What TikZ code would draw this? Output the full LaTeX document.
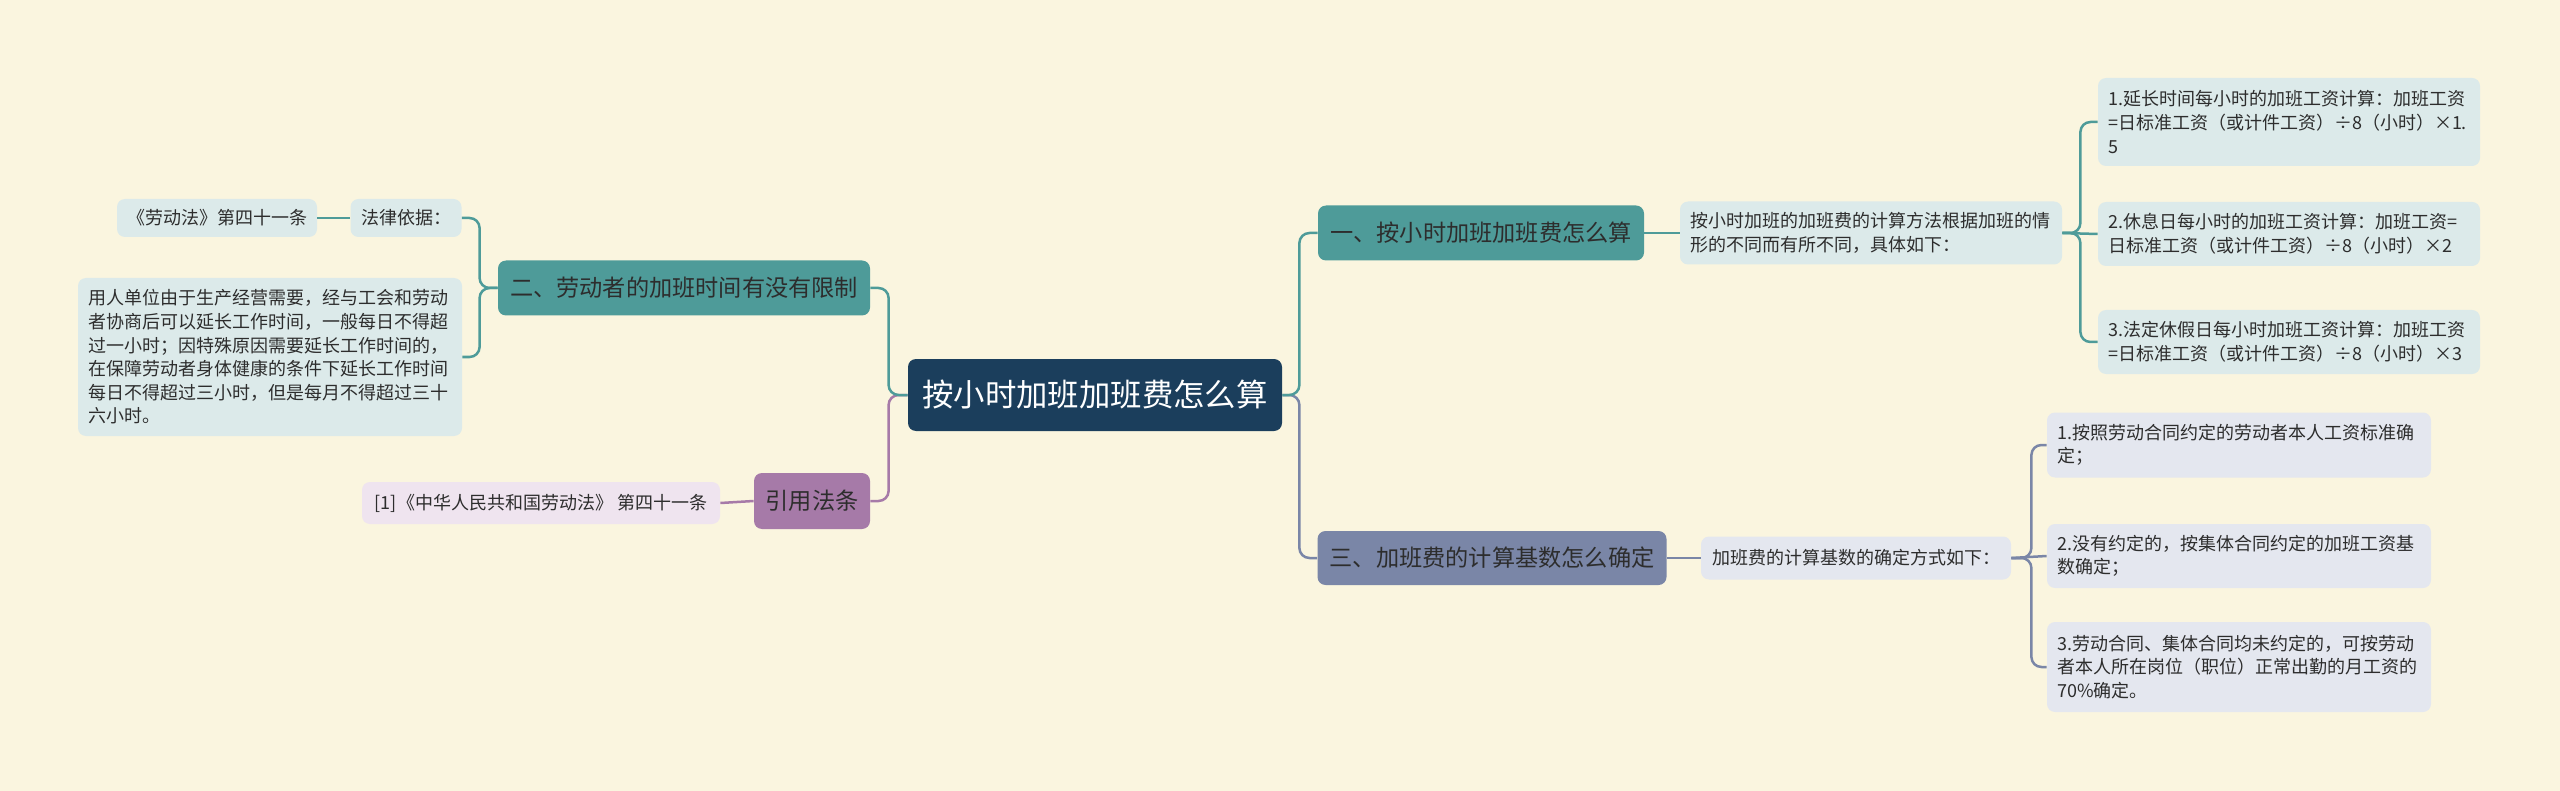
\documentclass[tikz,border=0pt]{standalone}
\usepackage{fontspec}
\setmainfont{Noto Sans CJK SC}
\usetikzlibrary{positioning}
\definecolor{paper}{RGB}{250,245,223}
\definecolor{rootblue}{RGB}{27,62,92}
\definecolor{mapteal}{RGB}{78,155,153}
\definecolor{tealsoft}{RGB}{220,234,234}
\definecolor{mappurple}{RGB}{166,122,168}
\definecolor{purplesoft}{RGB}{239,228,239}
\definecolor{mapslate}{RGB}{122,134,167}
\definecolor{slatesoft}{RGB}{228,231,239}
\definecolor{ink}{RGB}{45,45,45}

\begin{document}
\begin{tikzpicture}[x=0.5pt,y=-0.5pt,
  box/.style={rounded corners=4pt,inner xsep=5pt,inner ysep=0pt,text=ink},
  note/.style={box,align=left,font=\fontsize{9}{11.8}\selectfont},
  tag/.style={box,align=center,font=\fontsize{9}{11.8}\selectfont},
  topic/.style={box,align=center,font=\fontsize{11.6}{14}\selectfont,minimum height=27.5pt},
  link/.style={line width=1.25pt,rounded corners=5pt}]
\fill[paper] (0,0) rectangle (2560,791);
\useasboundingbox (0,0) rectangle (2560,791);

% centre
\node[box,fill=rootblue,text=white,align=center,font=\fontsize{15.7}{18}\selectfont,minimum width=187pt,minimum height=36pt] (root) at (1095,395) {按小时加班加班费怎么算};

% main topics
\node[topic,fill=mapteal,minimum width=163pt] (hour) at (1481,233) {一、按小时加班加班费怎么算};
\node[topic,fill=mapteal,minimum width=186pt] (limit) at (684,288) {二、劳动者的加班时间有没有限制};
\node[topic,fill=mapslate,minimum width=174.5pt,minimum height=27pt] (base) at (1492,558) {三、加班费的计算基数怎么确定};
\node[topic,fill=mappurple,minimum width=58pt,minimum height=28pt] (cite) at (812,501) {引用法条};

% left notes
\node[tag,fill=tealsoft,minimum width=55.5pt,minimum height=19pt] (law) at (406,218) {法律依据：};
\node[tag,fill=tealsoft,minimum width=99.5pt,minimum height=19pt] (article) at (217,218) {《劳动法》第四十一条};
\node[note,fill=tealsoft,text width=182pt,minimum height=79pt] (lawtext) at (270,357) {用人单位由于生产经营需要，经与工会和劳动\\者协商后可以延长工作时间，一般每日不得超\\过一小时；因特殊原因需要延长工作时间的，\\在保障劳动者身体健康的条件下延长工作时间\\每日不得超过三小时，但是每月不得超过三十\\六小时。};
\node[tag,fill=purplesoft,minimum width=179pt,minimum height=21pt] (ref) at (541,503) {[1]《中华人民共和国劳动法》 第四十一条};

% right notes
\node[note,fill=tealsoft,text width=181pt,minimum height=31.5pt] (howto) at (1871,233) {按小时加班的加班费的计算方法根据加班的情\\形的不同而有所不同，具体如下：};
\node[note,fill=tealsoft,text width=181pt,minimum height=44pt] (u1) at (2289,122) {1.延长时间每小时的加班工资计算：加班工资\\=日标准工资（或计件工资）÷8（小时）×1.\\5};
\node[note,fill=tealsoft,text width=181pt,minimum height=32pt] (u2) at (2289,234) {2.休息日每小时的加班工资计算：加班工资=\\日标准工资（或计件工资）÷8（小时）×2};
\node[note,fill=tealsoft,text width=181pt,minimum height=32pt] (u3) at (2289,342) {3.法定休假日每小时加班工资计算：加班工资\\=日标准工资（或计件工资）÷8（小时）×3};

\node[tag,fill=slatesoft,minimum width=155pt,minimum height=21.5pt] (way) at (1856,558) {加班费的计算基数的确定方式如下：};
\node[note,fill=slatesoft,text width=182pt,minimum height=32.5pt] (l1) at (2239,445) {1.按照劳动合同约定的劳动者本人工资标准确\\定；};
\node[note,fill=slatesoft,text width=182pt,minimum height=32pt] (l2) at (2239,556) {2.没有约定的，按集体合同约定的加班工资基\\数确定；};
\node[note,fill=slatesoft,text width=182pt,minimum height=45pt] (l3) at (2239,667) {3.劳动合同、集体合同均未约定的，可按劳动\\者本人所在岗位（职位）正常出勤的月工资的\\70\%确定。};

% connectors
\draw[link,mapslate] (root.east) -- ++(17,0) |- (base.west);
\draw[link,mapteal] (root.east) -- ++(17,0) |- (hour.west);
\draw[link,mappurple] (root.west) -- ++(-19,0) |- (cite.east);
\draw[link,mapteal] (root.west) -- ++(-19,0) |- (limit.east);
\draw[link,mapteal] (limit.west) -- ++(-18,0) |- (law.east);
\draw[link,mapteal] (limit.west) -- ++(-18,0) |- (lawtext.east);
\draw[link,mapteal] (law.west) -- (article.east);
\draw[link,mappurple] (cite.west) -- (ref.east);
\draw[link,mapteal] (hour.east) -- (howto.west);
\foreach \k in {u1,u3}
  \draw[link,mapteal] (howto.east) -- ++(18,0) |- (\k.west);
\draw[link,mapteal] (howto.east) -- (u2.west);
\draw[link,mapslate] (base.east) -- (way.west);
\foreach \k in {l1,l3}
  \draw[link,mapslate] (way.east) -- ++(20,0) |- (\k.west);
\draw[link,mapslate] (way.east) -- (l2.west);
\end{tikzpicture}
\end{document}
